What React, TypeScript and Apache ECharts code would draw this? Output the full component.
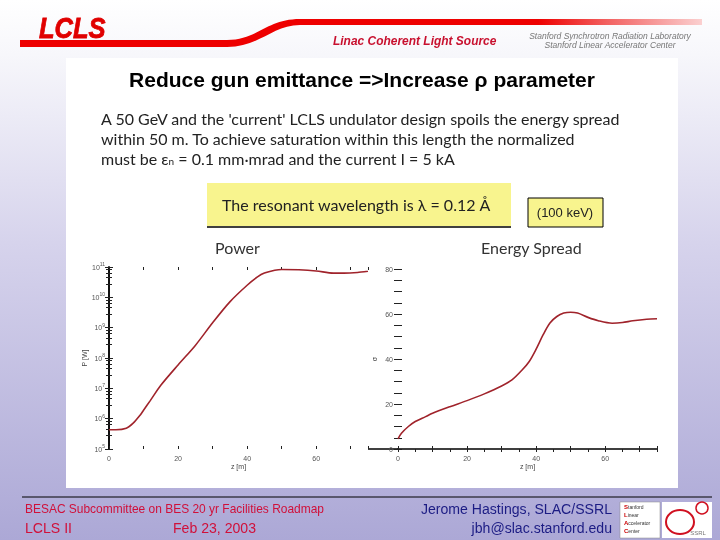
import React, { useEffect, useRef } from "react";
import * as echarts from "echarts";

// Power along the undulator (z in m, P in W)
const zPower = [0, 2, 5, 7, 9, 10, 12, 15, 20, 25, 30, 35, 40, 43, 45, 48, 50, 55, 60, 65, 68, 72, 75];
const powerW = [4.3e5, 4.3e5, 4.8e5, 7.1e5, 1.3e6, 1.9e6, 4.0e6, 1.26e7, 5.9e7, 2.6e8, 1.45e9, 7.1e9, 2.5e10, 4.7e10, 6.3e10, 7.8e10, 8.3e10, 8.1e10, 7.4e10, 6.3e10, 6.3e10, 6.6e10, 7.2e10];

// Energy spread along the undulator
const zSpread = [0, 1, 3, 5, 8, 10, 15, 20, 25, 30, 33, 36, 38, 40, 42, 44, 46, 48, 50, 52, 55, 58, 62, 65, 68, 72, 75];
const spread = [4.5, 7, 10, 12.2, 14.4, 15.9, 18.8, 21.5, 24.5, 28, 30.7, 35.2, 38.9, 44.4, 50.7, 56, 58.9, 60.4, 60.8, 60.4, 58.5, 57, 55.9, 56.2, 57, 57.7, 57.9];

const xTicksLabeled = [0, 20, 40, 60];
const spreadLabeled = [0, 20, 40, 60, 80];

const SWOOSH = "M 20 40 L 227 40 C 258 40 266 19 300 19 L 702 19 L 702 25 L 300 25 C 272 25 260 47 227 47 L 20 47 Z";

let registered = false;

export default function App() {
  const ref = useRef<HTMLDivElement>(null);
  useEffect(() => {
    if (!ref.current) return;
    if (!registered) {
      echarts.graphic.registerShape("swoosh", (echarts.graphic as any).extendPath(SWOOSH, {}));
      registered = true;
    }
    const chart = echarts.init(ref.current, null, { renderer: "svg" });
    const sans = "'Liberation Sans', Arial, sans-serif";
    const human = "Lato, 'Open Sans', sans-serif";
    const red = "#d0103a";
    const navy = "#1c1c84";
    const axisTxt = { fontSize: 7, color: "#555", fontFamily: sans };
    const tickStyle = { color: "#222", width: 1 };
    const curve = "#a0232b";
    const logoRich = { r: { fontSize: 6, fill: "#c00", fontWeight: "bold" }, k: { fontSize: 5, fill: "#333" } };

    const graphic: any[] = [
      {
        type: "rect", z: -10, shape: { x: 0, y: 0, width: 720, height: 540 },
        style: {
          fill: new echarts.graphic.LinearGradient(0, 0, 0, 1, [
            { offset: 0, color: "#ffffff" },
            { offset: 0.1, color: "#f7f7fb" },
            { offset: 0.45, color: "#d6d3ec" },
            { offset: 1, color: "#aca8d6" },
          ]),
        },
      },
      { type: "rect", z: -9, shape: { x: 66, y: 58, width: 612, height: 430 }, style: { fill: "#ffffff" } },
      {
        type: "swoosh", x: 0, y: 0, z: 1,
        style: {
          fill: new echarts.graphic.LinearGradient(20, 0, 702, 0, [
            { offset: 0, color: "#ee0000" },
            { offset: 0.76, color: "#ee0000" },
            { offset: 0.86, color: "#f26060" },
            { offset: 1, color: "#fbd0d0" },
          ], true),
        },
      },
      { type: "text", x: 39, y: 28, scaleX: 0.88, style: { text: "LCLS", font: "italic 900 29px " + sans, fill: "#e00000", stroke: "#e00000", lineWidth: 0.8, textVerticalAlign: "middle" } },
      { type: "text", x: 333, y: 41, scaleX: 0.92, style: { text: "Linac Coherent Light Source", font: "italic bold 13px " + sans, fill: "#c8102e", textVerticalAlign: "middle" } },
      { type: "text", x: 610, y: 36, style: { text: "Stanford Synchrotron Radiation Laboratory", font: "italic 8.5px " + sans, fill: "#777", textAlign: "center", textVerticalAlign: "middle" } },
      { type: "text", x: 610, y: 45, style: { text: "Stanford Linear Accelerator Center", font: "italic 8.5px " + sans, fill: "#777", textAlign: "center", textVerticalAlign: "middle" } },
      { type: "text", x: 362, y: 79, style: { text: "Reduce gun emittance =>Increase ρ parameter", font: "bold 21px " + sans, fill: "#000", textAlign: "center", textVerticalAlign: "middle" } },
      { type: "text", x: 101, y: 118, style: { text: "A 50 GeV and the 'current' LCLS undulator design spoils the energy spread", font: "16px " + human, fill: "#222", textVerticalAlign: "middle" } },
      { type: "text", x: 101, y: 138, style: { text: "within 50 m. To achieve saturation within this length the normalized", font: "16px " + human, fill: "#222", textVerticalAlign: "middle" } },
      {
        type: "text", x: 101, y: 158,
        style: {
          text: "{a|must be ε}{sub|n}{a| = 0.1 mm·mrad and the current I = 5 kA}",
          textVerticalAlign: "middle",
          rich: {
            a: { fontSize: 16, fontFamily: human, fill: "#222" },
            sub: { fontSize: 10, fontFamily: human, fill: "#222", padding: [6, 0, 0, 0] },
          },
        },
      },
      { type: "rect", shape: { x: 207, y: 183, width: 304, height: 43 }, style: { fill: "#f8f48e" } },
      { type: "line", shape: { x1: 207, y1: 227, x2: 511, y2: 227 }, style: { stroke: "#000", lineWidth: 1.5 } },
      { type: "text", x: 222, y: 204, style: { text: "The resonant wavelength is λ = 0.12 Å", font: "16px " + human, fill: "#222", textVerticalAlign: "middle" } },
      { type: "rect", shape: { x: 528, y: 198, width: 75, height: 29 }, style: { fill: "#f8f48e", stroke: "#000", lineWidth: 1 } },
      { type: "text", x: 565, y: 212, style: { text: "(100 keV)", font: "13px " + sans, fill: "#222", textAlign: "center", textVerticalAlign: "middle" } },
      { type: "text", x: 215, y: 247, style: { text: "Power", font: "16px " + human, fill: "#333", textVerticalAlign: "middle" } },
      { type: "text", x: 481, y: 247, style: { text: "Energy Spread", font: "16px " + human, fill: "#333", textVerticalAlign: "middle" } },
      { type: "line", shape: { x1: 368, y1: 449, x2: 398, y2: 449 }, style: { stroke: "#000", lineWidth: 1.5 } },
      { type: "line", shape: { x1: 22, y1: 497, x2: 712, y2: 497 }, style: { stroke: "#000", lineWidth: 1 } },
      { type: "text", x: 25, y: 509, scaleX: 0.92, style: { text: "BESAC Subcommittee on BES 20 yr Facilities Roadmap", font: "13px " + sans, fill: red, textVerticalAlign: "middle" } },
      { type: "text", x: 25, y: 528, scaleX: 0.94, style: { text: "LCLS II", font: "15px " + sans, fill: red, textVerticalAlign: "middle" } },
      { type: "text", x: 173, y: 528, scaleX: 0.94, style: { text: "Feb 23, 2003", font: "15px " + sans, fill: red, textVerticalAlign: "middle" } },
      { type: "text", x: 612, y: 509, scaleX: 0.94, style: { text: "Jerome Hastings, SLAC/SSRL", font: "15px " + sans, fill: navy, textAlign: "right", textVerticalAlign: "middle" } },
      { type: "text", x: 612, y: 528, scaleX: 0.94, style: { text: "jbh@slac.stanford.edu", font: "15px " + sans, fill: navy, textAlign: "right", textVerticalAlign: "middle" } },
      { type: "rect", shape: { x: 620, y: 502, width: 40, height: 36 }, style: { fill: "#ffffff", stroke: "#888", lineWidth: 0.5 } },
      { type: "text", x: 624, y: 507, style: { text: "{r|S}{k|tanford}", textVerticalAlign: "middle", rich: logoRich } },
      { type: "text", x: 624, y: 515, style: { text: "{r|L}{k|inear}", textVerticalAlign: "middle", rich: logoRich } },
      { type: "text", x: 624, y: 523, style: { text: "{r|A}{k|ccelerator}", textVerticalAlign: "middle", rich: logoRich } },
      { type: "text", x: 624, y: 531, style: { text: "{r|C}{k|enter}", textVerticalAlign: "middle", rich: logoRich } },
      { type: "rect", shape: { x: 662, y: 502, width: 50, height: 36 }, style: { fill: "#ffffff" } },
      { type: "ellipse", shape: { cx: 680, cy: 522, rx: 14, ry: 12 }, style: { fill: "none", stroke: "#d01020", lineWidth: 2 } },
      { type: "circle", shape: { cx: 702, cy: 508, r: 6 }, style: { fill: "none", stroke: "#d01020", lineWidth: 1.5 } },
      { type: "text", x: 698, y: 533, style: { text: "SSRL", font: "6px " + sans, fill: "#777", textAlign: "center", textVerticalAlign: "middle" } },
    ];

    const topAxis = (gi: number, interval: number) => ({
      gridIndex: gi, type: "value", position: "top", min: 0, max: 75, interval,
      axisLine: { show: false }, axisTick: { inside: true, length: 3, lineStyle: tickStyle },
      axisLabel: { show: false }, splitLine: { show: false },
    });

    chart.setOption({
      animation: false,
      graphic,
      grid: [
        { left: 109, top: 267, width: 259, height: 182 },
        { left: 398, top: 269, width: 259, height: 180 },
      ],
      xAxis: [
        {
          gridIndex: 0, type: "value", min: 0, max: 75, interval: 10,
          axisLine: { show: false }, axisTick: { inside: true, length: 3, lineStyle: tickStyle },
          axisLabel: { ...axisTxt, margin: 6, formatter: (v: number) => (xTicksLabeled.includes(v) ? String(v) : "") },
          splitLine: { show: false },
          name: "z [m]", nameLocation: "middle", nameGap: 14, nameTextStyle: { fontSize: 7, color: "#444", fontFamily: sans },
        },
        topAxis(0, 10),
        {
          gridIndex: 1, type: "value", min: 0, max: 75, interval: 10,
          axisLine: { show: true, lineStyle: { color: "#000", width: 1.5 } },
          axisTick: { inside: true, length: 3, lineStyle: tickStyle },
          axisLabel: { ...axisTxt, margin: 6, formatter: (v: number) => (xTicksLabeled.includes(v) ? String(v) : "") },
          splitLine: { show: false },
          name: "z [m]", nameLocation: "middle", nameGap: 14, nameTextStyle: { fontSize: 7, color: "#444", fontFamily: sans },
        },
        topAxis(1, 5),
      ],
      yAxis: [
        {
          gridIndex: 0, type: "log", logBase: 10, min: 1e5, max: 1e11, splitNumber: 6,
          axisLine: { show: true, lineStyle: { color: "#000", width: 1.5 } },
          axisTick: { inside: true, length: 4, lineStyle: tickStyle },
          minorTick: { show: true, splitNumber: 5, length: 3, lineStyle: tickStyle },
          splitLine: { show: false },
          axisLabel: {
            margin: 4,
            formatter: (v: number) => `{b|10}{s|${Math.round(Math.log10(v))}}`,
            rich: {
              b: { fontSize: 7, color: "#555", fontFamily: sans },
              s: { fontSize: 5, color: "#555", fontFamily: sans, padding: [0, 0, 6, 0] },
            },
          },
          name: "P [W]", nameLocation: "middle", nameGap: 20, nameRotate: 90,
          nameTextStyle: { fontSize: 7, color: "#444", fontFamily: sans },
        },
        {
          gridIndex: 0, type: "log", logBase: 10, min: 1e5, max: 1e11, splitNumber: 6, position: "right",
          axisLine: { show: true, lineStyle: { color: "#000", width: 1.5 } },
          axisTick: { inside: true, length: 4, lineStyle: tickStyle },
          minorTick: { show: true, splitNumber: 5, length: 3, lineStyle: tickStyle },
          axisLabel: { show: false }, splitLine: { show: false },
        },
        {
          gridIndex: 1, type: "value", min: 0, max: 80, interval: 5,
          axisLine: { show: false },
          axisTick: { inside: true, length: 4, lineStyle: tickStyle },
          axisLabel: { ...axisTxt, margin: 5, formatter: (v: number) => (spreadLabeled.includes(v) ? String(v) : "") },
          splitLine: { show: false },
          name: "σ", nameLocation: "middle", nameGap: 20, nameRotate: 90,
          nameTextStyle: { fontSize: 7, color: "#444", fontFamily: sans },
        },
        {
          gridIndex: 1, type: "value", min: 0, max: 80, interval: 5, position: "right",
          axisLine: { show: false },
          axisTick: { inside: true, length: 4, lineStyle: tickStyle },
          axisLabel: { show: false }, splitLine: { show: false },
        },
      ],
      series: [
        {
          type: "line", xAxisIndex: 0, yAxisIndex: 0, smooth: 0.3, showSymbol: false,
          lineStyle: { color: curve, width: 1.6 },
          data: zPower.map((z, i) => [z, powerW[i]]),
        },
        {
          type: "line", xAxisIndex: 2, yAxisIndex: 2, smooth: 0.3, showSymbol: false,
          lineStyle: { color: curve, width: 1.6 },
          data: zSpread.map((z, i) => [z, spread[i]]),
        },
      ],
    });
    return () => chart.dispose();
  }, []);
  return <div ref={ref} style={{ position: "fixed", left: 0, top: 0, width: 720, height: 540 }} />;
}
